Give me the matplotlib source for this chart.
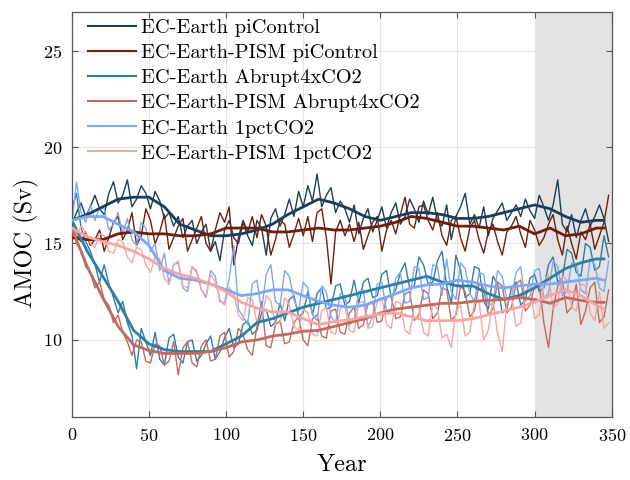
import numpy as np
import matplotlib
matplotlib.use("Agg")
import matplotlib.pyplot as plt

plt.rcParams['font.family'] = ['cmr10', 'DejaVu Serif']
plt.rcParams['axes.formatter.use_mathtext'] = True
plt.rcParams['mathtext.fontset'] = 'cm'

# annual AMOC, sampled every 3 years (Sv)
ece_pi = [16.0, 16.6, 17.1, 16.4, 16.9, 17.5, 16.8, 16.5, 17.6, 18.2, 17.1, 17.5, 18.3, 16.9, 17.3, 18.0,
          17.6, 16.8, 17.7, 17.2, 16.3, 16.6, 15.9, 16.4, 15.3, 15.9, 16.2, 15.0, 15.6, 16.0, 14.6, 15.1,
          14.1, 15.7, 16.2, 15.3, 15.0, 16.1, 15.4, 14.9, 16.2, 15.8, 14.4, 16.3, 16.8, 15.9, 16.5, 17.3,
          16.4, 17.7, 16.9, 18.0, 17.2, 18.6, 16.9, 17.5, 17.9, 16.6, 17.2, 16.8, 16.1, 17.0, 15.5, 16.3,
          16.8, 15.6, 16.2, 16.9, 15.8, 16.6, 17.1, 16.0, 16.4, 17.3, 16.8, 16.1, 17.2, 16.5, 17.4, 16.2,
          15.9, 17.0, 15.2, 16.4, 16.9, 17.6, 16.0, 16.5, 15.8, 16.9, 15.4, 16.3, 16.7, 17.1, 16.2, 16.6,
          17.0, 16.4, 17.3, 16.7, 16.3, 17.5, 16.9, 16.2, 17.0, 18.3, 16.0, 15.6, 16.5, 15.3, 16.2, 16.8,
          15.9, 16.4, 17.0, 16.3, 15.1]
pism_pi = [15.8, 15.4, 15.1, 15.6, 14.9, 15.2, 15.7, 14.6, 15.3, 16.1, 16.4, 15.2, 15.7, 16.6, 14.9, 15.4,
           16.8, 16.2, 15.0, 15.6, 16.5, 14.7, 15.3, 15.9, 16.3, 14.6, 15.2, 15.8, 16.4, 15.0, 14.6, 15.7,
           16.6, 16.1, 16.9, 13.9, 15.3, 16.2, 15.6, 16.4, 15.3, 16.5, 15.9, 14.4, 15.2, 16.2, 16.0, 14.8,
           15.5, 16.3, 15.4, 16.4, 15.1, 16.6, 16.8, 15.3, 12.9, 15.6, 16.2, 15.4, 16.0, 15.1, 16.1, 14.7,
           15.4, 16.1, 16.4, 14.6, 15.7, 16.2, 15.5, 16.5, 17.4, 16.0, 15.8, 16.9, 17.0, 16.2, 15.7, 16.6,
           15.4, 14.9, 16.2, 16.4, 15.3, 14.6, 15.8, 16.2, 15.2, 14.5, 15.6, 16.0, 15.1, 14.4, 15.6, 15.9,
           16.4, 15.5, 14.8, 16.2, 15.7, 14.9, 15.3, 16.0, 16.5, 15.2, 14.4, 15.9, 15.0, 14.2, 15.6, 15.2,
           16.0, 14.7, 15.4, 16.1, 17.5]
ece_4x = [16.8, 17.6, 15.8, 15.1, 14.6, 13.9, 13.0, 13.9, 12.9, 12.2, 11.4, 12.0, 10.9, 10.2, 8.5, 10.6,
          9.9, 9.2, 10.4, 9.0, 8.7, 10.1, 10.3, 9.1, 8.8, 9.9, 10.0, 8.9, 9.2, 9.8, 10.2, 9.0,
          9.4, 10.1, 10.6, 9.6, 9.8, 10.8, 11.0, 10.3, 10.5, 11.4, 11.6, 10.7, 10.9, 11.9, 11.0, 12.1,
          12.3, 11.2, 11.4, 12.5, 11.3, 12.4, 12.7, 11.6, 11.7, 12.8, 12.9, 11.8, 12.0, 13.1, 11.9, 13.0,
          13.2, 12.2, 12.3, 13.4, 13.6, 12.2, 12.6, 13.5, 14.0, 12.7, 12.8, 14.3, 13.9, 12.9, 13.0, 14.1,
          14.6, 12.8, 11.9, 14.4, 13.6, 12.2, 12.4, 13.8, 13.7, 12.0, 11.6, 13.3, 12.9, 11.4, 11.6, 12.7,
          13.0, 11.8, 12.1, 13.2, 13.4, 12.5, 12.7, 13.9, 14.3, 13.0, 13.2, 14.7, 14.5, 13.5, 13.3, 15.0,
          14.8, 13.6, 13.8, 15.4, 14.3]
pism_4x = [15.9, 15.0, 14.6, 13.8, 13.5, 12.7, 13.0, 12.1, 11.8, 10.9, 11.3, 10.4, 9.9, 9.2, 10.0, 9.9,
           8.9, 8.8, 9.8, 9.7, 8.7, 8.9, 9.9, 8.2, 9.6, 9.9, 8.8, 8.6, 9.7, 10.0, 8.9, 9.0,
           10.2, 10.4, 9.1, 9.4, 10.6, 10.3, 9.5, 9.2, 10.7, 12.0, 9.7, 9.6, 10.8, 11.0, 9.8, 9.9,
           10.9, 11.2, 10.0, 9.7, 11.1, 11.3, 10.2, 10.1, 11.5, 11.6, 10.4, 10.3, 11.4, 11.7, 10.6, 10.8,
           11.9, 12.0, 10.9, 11.0, 12.2, 12.3, 11.1, 11.2, 12.4, 12.5, 11.0, 11.3, 12.6, 12.4, 11.1, 11.4,
           12.7, 12.6, 11.0, 11.3, 12.8, 12.5, 11.2, 11.5, 12.9, 12.7, 11.3, 11.6, 13.0, 12.8, 11.4, 11.7,
           12.9, 13.1, 11.5, 11.8, 12.8, 12.9, 10.9, 9.6, 11.6, 12.8, 13.1, 11.4, 11.7, 12.9, 10.8, 11.5,
           12.7, 13.0, 10.9, 11.2, 12.6]
ece_1pct = [16.0, 18.2, 16.6, 16.1, 17.0, 16.2, 16.9, 16.8, 15.7, 16.0, 16.6, 15.5, 16.3, 15.2, 14.9, 16.1,
            15.8, 14.6, 15.0, 13.6, 14.5, 12.9, 13.9, 14.0, 12.7, 12.5, 13.8, 13.5, 12.6, 12.2, 13.6, 13.3,
            12.0, 11.9, 13.2, 14.9, 11.6, 11.2, 10.8, 12.9, 13.1, 11.5, 13.4, 13.9, 12.0, 11.8, 13.6, 13.3,
            12.1, 11.5, 13.0, 12.7, 11.3, 11.0, 12.8, 12.5, 11.2, 10.9, 12.4, 12.3, 10.8, 11.0, 12.5, 12.6,
            10.7, 11.2, 12.9, 13.0, 11.5, 11.6, 13.2, 13.5, 11.9, 12.0, 13.8, 13.7, 12.1, 12.2, 13.9, 13.8,
            12.3, 14.2, 12.5, 12.1, 14.0, 13.7, 12.4, 12.0, 13.5, 13.4, 11.8, 11.9, 13.6, 13.3, 12.1, 12.2,
            13.5, 13.8, 12.0, 12.3, 13.6, 13.7, 12.2, 12.4, 14.1, 13.8, 12.3, 12.5, 14.0, 13.9, 12.6, 12.4,
            14.2, 13.9, 12.7, 12.5, 14.1]
pism_1pct = [16.3, 15.4, 15.9, 15.6, 15.0, 14.8, 15.5, 15.4, 14.6, 14.5, 15.2, 15.1, 14.3, 14.0, 14.8, 14.7,
             13.9, 13.5, 14.3, 14.2, 13.2, 12.9, 13.9, 14.1, 12.8, 12.7, 13.8, 13.6, 12.6, 12.3, 13.4, 13.0,
             12.1, 11.8, 12.7, 12.4, 11.3, 11.0, 12.2, 12.1, 10.9, 11.0, 12.3, 12.0, 10.8, 10.9, 12.2, 11.8,
             10.7, 10.5, 11.6, 11.4, 10.3, 10.2, 11.5, 11.7, 10.4, 10.3, 11.6, 11.8, 10.5, 10.4, 11.9, 12.0,
             10.6, 10.7, 12.1, 12.2, 10.8, 10.6, 12.0, 11.9, 10.5, 10.3, 11.8, 11.7, 10.4, 10.2, 11.9, 11.6,
             10.1, 10.3, 9.6, 11.5, 11.8, 10.2, 10.4, 11.9, 12.0, 10.0, 10.5, 12.1, 10.3, 9.4, 11.9, 12.3,
             10.7, 10.9, 12.5, 12.8, 11.1, 11.3, 13.0, 13.4, 11.6, 11.9, 13.3, 13.1, 11.7, 11.5, 12.9, 12.8,
             11.4, 11.0, 12.5, 10.6, 10.9]

# running-mean curves
smooth_years = [0, 10, 20, 30, 40, 50, 60, 70, 80, 90, 100, 110, 120, 130, 140, 150, 160, 170, 180,
                190, 200, 210, 220, 230, 240, 250, 260, 270, 280, 290, 300, 310, 320, 330, 340, 345]
ece_pi_s = [16.2, 16.5, 16.9, 17.3, 17.4, 17.4, 16.9, 16.0, 15.7, 15.4, 15.4, 15.5, 15.7, 16.0, 16.5, 16.9,
            17.3, 17.1, 16.8, 16.4, 16.2, 16.4, 16.6, 16.6, 16.5, 16.3, 16.3, 16.4, 16.6, 16.8, 17.0, 16.8,
            16.4, 16.1, 16.2, 16.2]
pism_pi_s = [15.3, 15.2, 15.2, 15.5, 15.6, 15.5, 15.5, 15.4, 15.4, 15.5, 15.8, 15.8, 15.8, 15.6, 15.6, 15.7,
             15.8, 15.7, 15.7, 15.8, 15.9, 16.1, 16.4, 16.3, 16.1, 15.9, 15.9, 15.8, 15.7, 15.9, 15.5, 15.8,
             15.4, 15.5, 15.8, 15.8]
ece_4x_s = [16.2, 14.6, 13.3, 12.0, 10.5, 9.8, 9.5, 9.4, 9.4, 9.4, 9.8, 10.2, 10.9, 11.1, 11.4, 11.7,
            11.9, 12.1, 12.3, 12.5, 12.7, 12.9, 13.1, 13.3, 13.0, 12.8, 12.8, 12.4, 12.1, 12.3, 12.7, 13.2,
            13.7, 14.0, 14.2, 14.2]
pism_4x_s = [15.8, 13.8, 12.2, 10.7, 9.75, 9.45, 9.3, 9.3, 9.3, 9.4, 9.6, 9.9, 10.0, 10.2, 10.3, 10.45,
             10.5, 10.7, 10.9, 11.1, 11.4, 11.6, 11.7, 11.8, 11.9, 11.9, 12.0, 12.05, 12.1, 12.2, 12.1, 11.9,
             12.2, 12.05, 11.95, 11.95]
ece_1pct_s = [16.2, 16.4, 16.4, 16.0, 15.6, 14.9, 13.6, 13.2, 13.1, 12.9, 12.6, 12.3, 12.4, 12.6, 12.6, 12.3,
              12.0, 11.8, 11.7, 11.8, 12.1, 12.4, 12.7, 12.85, 12.9, 13.1, 13.0, 12.8, 12.7, 12.8, 12.9, 12.9,
              13.0, 13.1, 13.2, 13.1]
pism_1pct_s = [15.8, 15.35, 15.1, 14.9, 14.6, 14.2, 13.7, 13.4, 13.2, 12.9, 12.5, 11.95, 11.65, 11.45, 11.45, 11.1,
               10.8, 10.95, 11.05, 11.2, 11.35, 11.4, 11.2, 11.0, 11.0, 11.0, 11.1, 11.3, 11.5, 11.7, 11.95, 12.3,
               12.6, 12.3, 11.8, 11.6]

labels = ['EC-Earth piControl', 'EC-Earth-PISM piControl', 'EC-Earth Abrupt4xCO2',
          'EC-Earth-PISM Abrupt4xCO2', 'EC-Earth 1pctCO2', 'EC-Earth-PISM 1pctCO2']
colors = ['#1b3f58', '#6e1f0c', '#2f7ea3', '#c06a60', '#7ea8f2', '#f6a5a5']
raw = [ece_pi, pism_pi, ece_4x, pism_4x, ece_1pct, pism_1pct]
smooth = [ece_pi_s, pism_pi_s, ece_4x_s, pism_4x_s, ece_1pct_s, pism_1pct_s]

fig = plt.figure(figsize=(6.3, 4.8), dpi=100)
ax = fig.add_axes([0.114, 0.131, 0.857, 0.844])

ax.axvspan(300, 350, color='#e3e3e3', zorder=0, lw=0)

handles = []
for r, s, c, lab in zip(raw, smooth, colors, labels):
    yrs = 3 * np.arange(len(r))
    ax.plot(yrs, r, color=c, lw=1.0, zorder=2)
    h, = ax.plot(smooth_years, s, color=c, lw=2.0, zorder=3, label=lab)
    handles.append(h)

ax.set_xlim(0, 350)
ax.set_ylim(6, 27)
ax.set_xticks(np.arange(0, 351, 50))
ax.set_yticks([10, 15, 20, 25])
ax.grid(True, color='#e4e4e4', lw=0.8, zorder=1)
ax.set_axisbelow(True)
ax.tick_params(direction='in', top=True, right=True, labelsize=13, length=4, pad=7, color='#555555')
for sp in ax.spines.values():
    sp.set_color('#555555')
    sp.set_linewidth(0.9)

ax.set_xlabel('Year', fontsize=17.5, labelpad=7)
ax.set_ylabel('AMOC (Sv)', fontsize=17.5)
ax.yaxis.set_label_coords(-0.06, 0.43)

leg = ax.legend(handles=handles, loc='upper left', bbox_to_anchor=(0.024, 0.99), frameon=False,
                fontsize=14.7, handlelength=2.35, labelspacing=0.33, borderaxespad=0.0,
                borderpad=0.15, handletextpad=0.25)
for lh in leg.get_lines():
    lh.set_linewidth(1.5)

fig.savefig('out.png', dpi=100)
